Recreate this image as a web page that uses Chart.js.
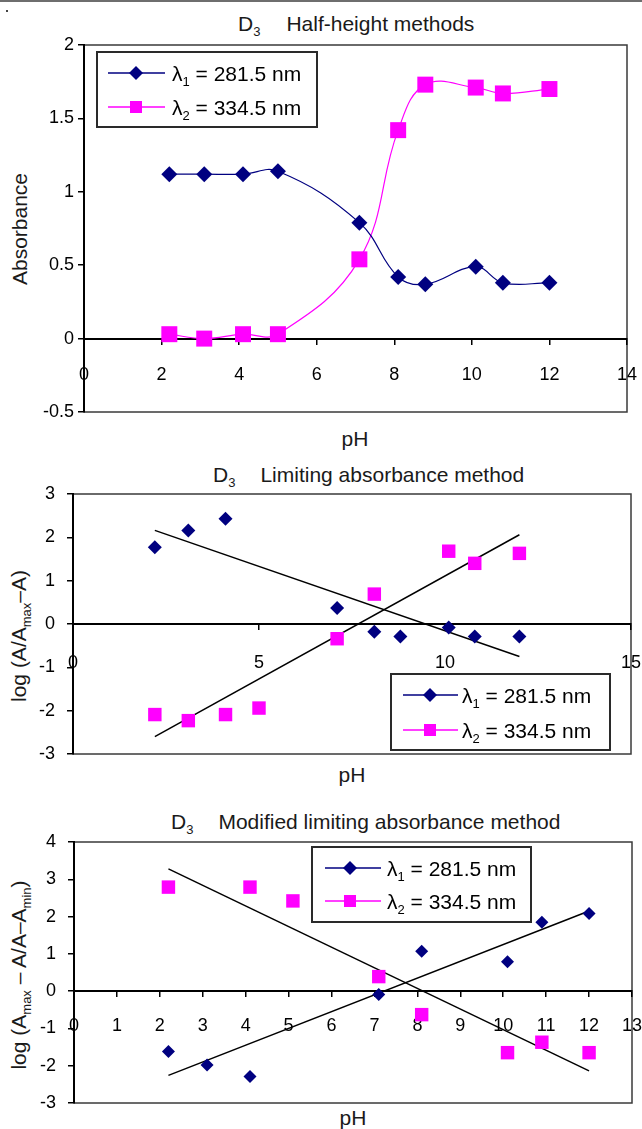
<!DOCTYPE html>
<html>
<head>
<meta charset="utf-8">
<script src="https://cdn.jsdelivr.net/npm/chart.js"></script>
<style>
body { margin: 0; background: #fff; width: 642px; height: 1129px; position: relative; overflow: hidden;
  font-family: 'Liberation Sans', Arial, sans-serif; color: #000; }
canvas { position: absolute; left: 0; }
.t { position: absolute; white-space: nowrap; font-size: 21px; line-height: 24px; color: #1a1a1a; }
.t sub, .yt sub { font-size: 13px; vertical-align: -5px; line-height: 0; }
.yt { position: absolute; white-space: nowrap; font-size: 21px; line-height: 24px; color: #1a1a1a;
  transform: translate(-50%, -50%) rotate(-90deg); }
.xt { position: absolute; white-space: nowrap; font-size: 21px; line-height: 24px; color: #1a1a1a;
  transform: translate(-50%, -50%); }
.topline { position: absolute; left: 0; top: 0; width: 642px; height: 2px; background: #6e6e6e; }
.dot { position: absolute; left: 6px; top: 10px; width: 2px; height: 2px; background: #444; }
</style>
</head>
<body>
<div class="topline"></div>
<div class="dot"></div>

<div class="t" style="left:238px;top:12px">D<sub>3</sub><span style="margin-left:26px">Half-height methods</span></div>
<div class="yt" style="left:20px;top:229px">Absorbance</div>
<div class="xt" style="left:355px;top:439px">pH</div>
<canvas id="c1" width="642" height="450" style="top:0"></canvas>

<div class="t" style="left:213px;top:463px">D<sub>3</sub><span style="margin-left:25px">Limiting absorbance method</span></div>
<div class="yt" style="left:19px;top:636px">log (A/A<sub>max</sub>–A)</div>
<div class="xt" style="left:352px;top:775px">pH</div>
<canvas id="c2" width="642" height="345" style="top:450px"></canvas>

<div class="t" style="left:171px;top:810px">D<sub>3</sub><span style="margin-left:25px">Modified limiting absorbance method</span></div>
<div class="yt" style="left:19px;top:975px">log (A<sub>max</sub> – A/A–A<sub>min</sub>)</div>
<div class="xt" style="left:353px;top:1118px">pH</div>
<canvas id="c3" width="642" height="334" style="top:795px"></canvas>

<script>
Chart.defaults.font.family = "'Liberation Sans', Arial, sans-serif";
Chart.defaults.color = '#000';

// D3 half-height method
const hhPH = [2.2, 3.1, 4.1, 5.0, 7.1, 8.1, 8.8, 10.1, 10.8, 12.0];
const hhL1 = [1.12, 1.12, 1.12, 1.14, 0.79, 0.42, 0.37, 0.49, 0.38, 0.38];
const hhL2 = [0.03, 0.0, 0.03, 0.03, 0.54, 1.42, 1.73, 1.71, 1.67, 1.70];
const hhXTicks = [0, 2, 4, 6, 8, 10, 12, 14];
const hhYTicks = [-0.5, 0, 0.5, 1, 1.5, 2];

// D3 limiting absorbance method
const laPH1 = [2.2, 3.1, 4.1, 7.1, 8.1, 8.8, 10.1, 10.8, 12.0];
const laL1 = [1.77, 2.16, 2.43, 0.37, -0.18, -0.29, -0.08, -0.29, -0.29];
const laPH2 = [2.2, 3.1, 4.1, 5.0, 7.1, 8.1, 10.1, 10.8, 12.0];
const laL2 = [-2.09, -2.23, -2.09, -1.94, -0.34, 0.69, 1.68, 1.40, 1.63];
const laFitPH = [2.2, 12.0];
const laFit1 = [2.16, -0.75];
const laFit2 = [-2.6, 2.06];
const laXTicks = [0, 5, 10, 15];
const laYTicks = [-3, -2, -1, 0, 1, 2, 3];

// D3 modified limiting absorbance method
const mlPH1 = [2.2, 3.1, 4.1, 7.1, 8.1, 10.1, 10.9, 12.0];
const mlL1 = [-1.62, -1.98, -2.29, -0.09, 1.07, 0.79, 1.85, 2.08];
const mlPH2 = [2.2, 4.1, 5.1, 7.1, 8.1, 10.1, 10.9, 12.0];
const mlL2 = [2.79, 2.79, 2.42, 0.39, -0.63, -1.65, -1.37, -1.65];
const mlFitPH = [2.2, 12.0];
const mlFit1 = [-2.26, 2.15];
const mlFit2 = [3.28, -2.14];
const mlXTicks = [0, 1, 2, 3, 4, 5, 6, 7, 8, 9, 10, 11, 12, 13];
const mlYTicks = [-3, -2, -1, 0, 1, 2, 3, 4];

// legend text: symbol, subscript, rest
const legendLabels = [['λ', '1', ' = 281.5 nm'], ['λ', '2', ' = 334.5 nm']];

const NAVY = '#000080';
const PINK = '#ff00ff';

let pts = function(xs, ys) {
  return xs.map((x, i) => ({x: x, y: ys[i]}));
};

let marker = function(ctx, style, x, y, r, color) {
  ctx.fillStyle = color;
  ctx.beginPath();
  if (style === 'rectRot') {
    ctx.moveTo(x, y - r); ctx.lineTo(x + r, y); ctx.lineTo(x, y + r); ctx.lineTo(x - r, y);
  } else {
    ctx.rect(x - r, y - r, 2 * r, 2 * r);
  }
  ctx.closePath();
  ctx.fill();
};

// frame round the plot area and the boxed legend
const decor = {
  id: 'decor',
  beforeDraw(chart) {
    const ctx = chart.ctx, a = chart.chartArea;
    ctx.save();
    ctx.strokeStyle = '#3a3a3a';
    ctx.lineWidth = 1.5;
    ctx.strokeRect(a.left, a.top, a.right - a.left, a.bottom - a.top);
    ctx.restore();
  },
  afterDraw(chart, args, o) {
    const ctx = chart.ctx, b = o.box;
    ctx.save();
    ctx.fillStyle = '#fff';
    ctx.fillRect(b.x, b.y, b.w, b.h);
    ctx.strokeStyle = '#2a2a2a';
    ctx.lineWidth = 2;
    ctx.strokeRect(b.x, b.y, b.w, b.h);
    o.rows.forEach((y, i) => {
      const ds = chart.data.datasets[i];
      ctx.strokeStyle = ds.borderColor;
      ctx.lineWidth = 1.5;
      ctx.beginPath();
      ctx.moveTo(o.lineX[0], y);
      ctx.lineTo(o.lineX[1], y);
      ctx.stroke();
      marker(ctx, ds.pointStyle, o.markX, y, ds.pointStyle === 'rectRot' ? 7 : 6, ds.backgroundColor);
      const lab = legendLabels[i];
      ctx.fillStyle = '#000';
      ctx.textBaseline = 'alphabetic';
      ctx.font = "21px 'Liberation Sans', Arial, sans-serif";
      let x = o.textX;
      ctx.fillText(lab[0], x, y + 8);
      x += ctx.measureText(lab[0]).width;
      ctx.font = "13px 'Liberation Sans', Arial, sans-serif";
      ctx.fillText(lab[1], x, y + 13);
      x += ctx.measureText(lab[1]).width;
      ctx.font = "21px 'Liberation Sans', Arial, sans-serif";
      ctx.fillText(lab[2], x, y + 8);
    });
    ctx.restore();
  }
};

let axes = function(xr, yr, xt, yt, yWidth, pad, yPad) {
  return {
    x: {
      type: 'linear', position: {y: 0}, min: xr[0], max: xr[1],
      afterBuildTicks: s => { s.ticks = xt.map(v => ({value: v})); },
      // the big label padding must not eat into the plot width
      afterFit: s => { s.paddingLeft = 0; s.paddingRight = 0; },
      ticks: {padding: pad, font: {size: 18}, maxRotation: 0, autoSkip: false, callback: v => String(v)},
      grid: {drawOnChartArea: false, tickLength: 5, color: '#000', lineWidth: 1.5},
      border: {color: '#000', width: 2}
    },
    y: {
      type: 'linear', position: 'left', min: yr[0], max: yr[1],
      afterBuildTicks: s => { s.ticks = yt.map(v => ({value: v})); },
      afterFit: s => { s.width = yWidth; },
      ticks: {padding: yPad, font: {size: 18}, autoSkip: false, callback: v => String(v)},
      grid: {drawOnChartArea: false, tickLength: 6, color: '#000', lineWidth: 1.5},
      border: {color: '#000', width: 2}
    }
  };
};

let base = function(padding, scales, legend) {
  return {
    responsive: false,
    animation: false,
    events: [],
    layout: {padding: padding},
    scales: scales,
    plugins: {legend: {display: false}, tooltip: {enabled: false}, decor: legend}
  };
};

new Chart(document.getElementById('c1').getContext('2d'), {
  type: 'scatter',
  data: {
    datasets: [{
      label: 'l1', data: pts(hhPH, hhL1), showLine: true, tension: 0.4,
      borderColor: NAVY, backgroundColor: NAVY, borderWidth: 1.2,
      pointStyle: 'rectRot', pointRadius: 8, pointBorderWidth: 0
    }, {
      label: 'l2', data: pts(hhPH, hhL2), showLine: true, tension: 0.4,
      borderColor: PINK, backgroundColor: PINK, borderWidth: 1.2,
      pointStyle: 'rect', pointRadius: 11.3, pointBorderWidth: 0
    }]
  },
  options: base({top: 45, right: 15, bottom: 38, left: 0},
    axes([0, 14], [-0.5, 2], hhXTicks, hhYTicks, 84, 21, 4),
    {box: {x: 97, y: 52, w: 220, h: 75}, rows: [73, 107], lineX: [108, 165], markX: 136, textX: 172}),
  plugins: [decor]
});

new Chart(document.getElementById('c2').getContext('2d'), {
  type: 'scatter',
  data: {
    datasets: [{
      label: 'l1', data: pts(laPH1, laL1),
      borderColor: NAVY, backgroundColor: NAVY,
      pointStyle: 'rectRot', pointRadius: 7, pointBorderWidth: 0
    }, {
      label: 'l2', data: pts(laPH2, laL2),
      borderColor: PINK, backgroundColor: PINK,
      pointStyle: 'rect', pointRadius: 9.5, pointBorderWidth: 0
    }, {
      label: 'fit1', data: pts(laFitPH, laFit1), showLine: true, pointRadius: 0,
      borderColor: '#000', borderWidth: 1.5
    }, {
      label: 'fit2', data: pts(laFitPH, laFit2), showLine: true, pointRadius: 0,
      borderColor: '#000', borderWidth: 1.5
    }]
  },
  options: base({top: 44, right: 11, bottom: 41, left: 0},
    axes([0, 15], [-3, 3], laXTicks, laYTicks, 73, 23, 12),
    {box: {x: 391, y: 224, w: 219, h: 76}, rows: [245, 280], lineX: [403, 458], markX: 430, textX: 462}),
  plugins: [decor]
});

new Chart(document.getElementById('c3').getContext('2d'), {
  type: 'scatter',
  data: {
    datasets: [{
      label: 'l1', data: pts(mlPH1, mlL1),
      borderColor: NAVY, backgroundColor: NAVY,
      pointStyle: 'rectRot', pointRadius: 6.5, pointBorderWidth: 0
    }, {
      label: 'l2', data: pts(mlPH2, mlL2),
      borderColor: PINK, backgroundColor: PINK,
      pointStyle: 'rect', pointRadius: 9.5, pointBorderWidth: 0
    }, {
      label: 'fit1', data: pts(mlFitPH, mlFit1), showLine: true, pointRadius: 0,
      borderColor: '#000', borderWidth: 1.5
    }, {
      label: 'fit2', data: pts(mlFitPH, mlFit2), showLine: true, pointRadius: 0,
      borderColor: '#000', borderWidth: 1.5
    }]
  },
  options: base({top: 47, right: 10, bottom: 26, left: 0},
    axes([0, 13], [-3, 4], mlXTicks, mlYTicks, 74, 19, 12),
    {box: {x: 312, y: 52, w: 219, h: 75}, rows: [73, 106], lineX: [325, 381], markX: 350, textX: 387}),
  plugins: [decor]
});
</script>
</body>
</html>
